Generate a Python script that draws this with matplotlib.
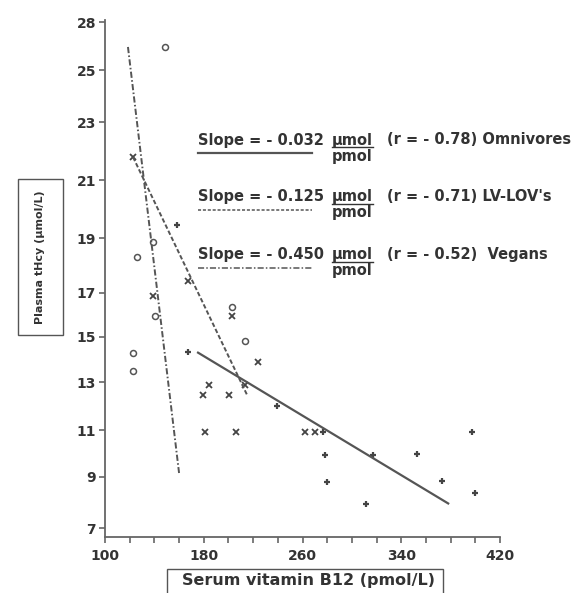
import numpy as np
import matplotlib
matplotlib.use("Agg")
import matplotlib.pyplot as plt
from matplotlib.patches import Rectangle
from matplotlib.lines import Line2D
from matplotlib.ticker import FixedLocator, MultipleLocator

plt.rcParams['font.family'] = ['DejaVu Sans']

# ---------------- data ----------------
y_tick_values = [7, 9, 11, 13, 15, 17, 19, 21, 23, 25, 28]
x_tick_values = [100, 180, 260, 340, 420]

vegan_x = [148.6, 138.9, 125.9, 140.5, 202.9, 213.5, 122.7, 122.7]
vegan_y = [26.44, 18.85, 18.31, 15.95, 16.36, 14.82, 14.29, 13.49]

lv_x = [122.7, 167.3, 138.9, 202.9, 224.0, 184.3, 213.5, 179.4, 200.5, 181.0, 206.2, 262.1, 270.2]
lv_y = [21.79, 17.44, 16.86, 15.95, 13.89, 12.88, 12.88, 12.46, 12.46, 10.91, 10.91, 10.91, 10.91]

omni_x = [158.3, 167.3, 239.4, 276.7, 278.3, 317.2, 279.9, 311.5, 352.8, 397.4, 373.1, 399.8]
omni_y = [19.45, 14.33, 12.00, 10.91, 9.94, 9.94, 8.80, 7.94, 9.98, 10.91, 8.84, 8.37]

# fitted regression lines (end points)
omni_fit_x = [174.6, 378.8]
omni_fit_y = [14.33, 7.94]
lv_fit_x = [122.7, 215.1]
lv_fit_y = [21.79, 12.46]
vegan_fit_x = [118.6, 160.0]
vegan_fit_y = [26.44, 9.17]

groups = ["Omnivores", "LV-LOV's", "Vegans"]
slopes = ["- 0.032", "- 0.125", "- 0.450"]
r_values = ["- 0.78", "- 0.71", "- 0.52"]

# ---------------- scale (the printed y axis is not evenly graduated) ----------------
_scale_pos = np.array([0, 51, 98, 146, 191, 235, 290, 348, 406, 458, 506], float)
_scale_val = np.array(y_tick_values, float)


def _lin(v, xs, ys):
    v = np.asarray(v, float)
    out = np.interp(v, xs, ys)
    lo_s = (ys[1] - ys[0]) / (xs[1] - xs[0])
    hi_s = (ys[-1] - ys[-2]) / (xs[-1] - xs[-2])
    out = np.where(v < xs[0], ys[0] + (v - xs[0]) * lo_s, out)
    out = np.where(v > xs[-1], ys[-1] + (v - xs[-1]) * hi_s, out)
    return out


def fwd(v):
    return _lin(v, _scale_val, _scale_pos)


def inv(p):
    return _lin(p, _scale_pos, _scale_val)


# ---------------- figure ----------------
W, H = 588, 593
fig = plt.figure(figsize=(W / 100, H / 100), dpi=100)


def fx(px):
    return px / W


def fy(py):
    return 1 - py / H


ax = fig.add_axes([fx(105), fy(537), fx(500) - fx(105), fy(20) - fy(537)])
ax.set_yscale('function', functions=(fwd, inv))
ax.set_xlim(100, 420)
ax.set_ylim(float(inv(-9)), float(inv(508)))

gray = '#555555'
txt = '#333333'

ax.plot(vegan_x, vegan_y, linestyle='none', marker='o', ms=4.3, mfc='none', mec=gray, mew=1.1)
ax.plot(lv_x, lv_y, linestyle='none', marker='x', ms=4.2, mec='#444444', mew=1.3)
ax.plot(omni_x, omni_y, linestyle='none', marker='+', ms=4.5, mec='#444444', mew=1.6)

ax.plot(omni_fit_x, omni_fit_y, color=gray, lw=1.6, solid_capstyle='butt')
ax.plot(lv_fit_x, lv_fit_y, color=gray, lw=1.4, dashes=(2.3, 1.2))
ax.plot(vegan_fit_x, vegan_fit_y, color=gray, lw=1.4, dashes=(3.2, 1.2, 0.8, 1.2))

for s in ['top', 'right']:
    ax.spines[s].set_visible(False)
for s in ['left', 'bottom']:
    ax.spines[s].set_color('#666666')
    ax.spines[s].set_linewidth(1.3)

ax.yaxis.set_major_locator(FixedLocator(y_tick_values))
ax.set_yticklabels([str(v) for v in y_tick_values])
ax.yaxis.set_minor_locator(FixedLocator([]))
ax.xaxis.set_major_locator(FixedLocator(x_tick_values))
ax.xaxis.set_minor_locator(MultipleLocator(20))
ax.tick_params(which='both', direction='out', length=4.5, width=1.2, color='#666666')
ax.tick_params(axis='y', pad=2)
ax.tick_params(axis='x', pad=4)
for lab in ax.get_xticklabels() + ax.get_yticklabels():
    lab.set_fontweight('bold')
    lab.set_fontsize(10)
    lab.set_color(txt)

# axis label boxes
fig.patches.append(Rectangle((fx(18), fy(335)), fx(63) - fx(18), fy(179) - fy(335),
                             transform=fig.transFigure, fill=False, ec='#555555', lw=1.0))
fig.text(fx(40), fy(257), 'Plasma tHcy (μmol/L)', rotation=90, ha='center', va='center',
         fontsize=8, fontweight='bold', color=txt)
fig.patches.append(Rectangle((fx(167), fy(600)), fx(443) - fx(167), fy(569) - fy(600),
                             transform=fig.transFigure, fill=False, ec='#555555', lw=1.0))
fig.text(fx(309), fy(581), 'Serum vitamin B12 (pmol/L)', ha='center', va='center',
         fontsize=11.5, fontweight='bold', color=txt)

# annotation block
row_y = [140, 197, 255]
styles = [dict(linestyle='-', lw=1.6), dict(dashes=(2.0, 1.2), lw=1.1), dict(dashes=(4.0, 1.4, 1.0, 1.4), lw=1.1)]
r_gap = [' ', ' ', '  ']
fig.canvas.draw()
rend = fig.canvas.get_renderer()
for i in range(3):
    y0 = row_y[i]
    fig.text(fx(198), fy(y0), 'Slope = ' + slopes[i], ha='left', va='center',
             fontsize=10.5, fontweight='bold', color=txt)
    mu = fig.text(fx(332), fy(y0), 'μmol', ha='left', va='center',
                  fontsize=10.5, fontweight='bold', color=txt)
    fig.text(fx(332), fy(y0 + 16), 'pmol', ha='left', va='center',
             fontsize=10.5, fontweight='bold', color=txt)
    fig.text(fx(387), fy(y0), '(r = ' + r_values[i] + ')' + r_gap[i] + groups[i], ha='left', va='center',
             fontsize=10.5, fontweight='bold', color=txt)
    bb = mu.get_window_extent(rend)
    fig.lines.append(Line2D([bb.x0 / W, bb.x1 / W], [fy(y0 + 7), fy(y0 + 7)],
                            transform=fig.transFigure, color=txt, lw=1.0))
    fig.lines.append(Line2D([fx(198), fx(312)], [fy(y0 + 13), fy(y0 + 13)],
                            transform=fig.transFigure, color=gray, **styles[i]))

fig.savefig('out.png', dpi=100)
